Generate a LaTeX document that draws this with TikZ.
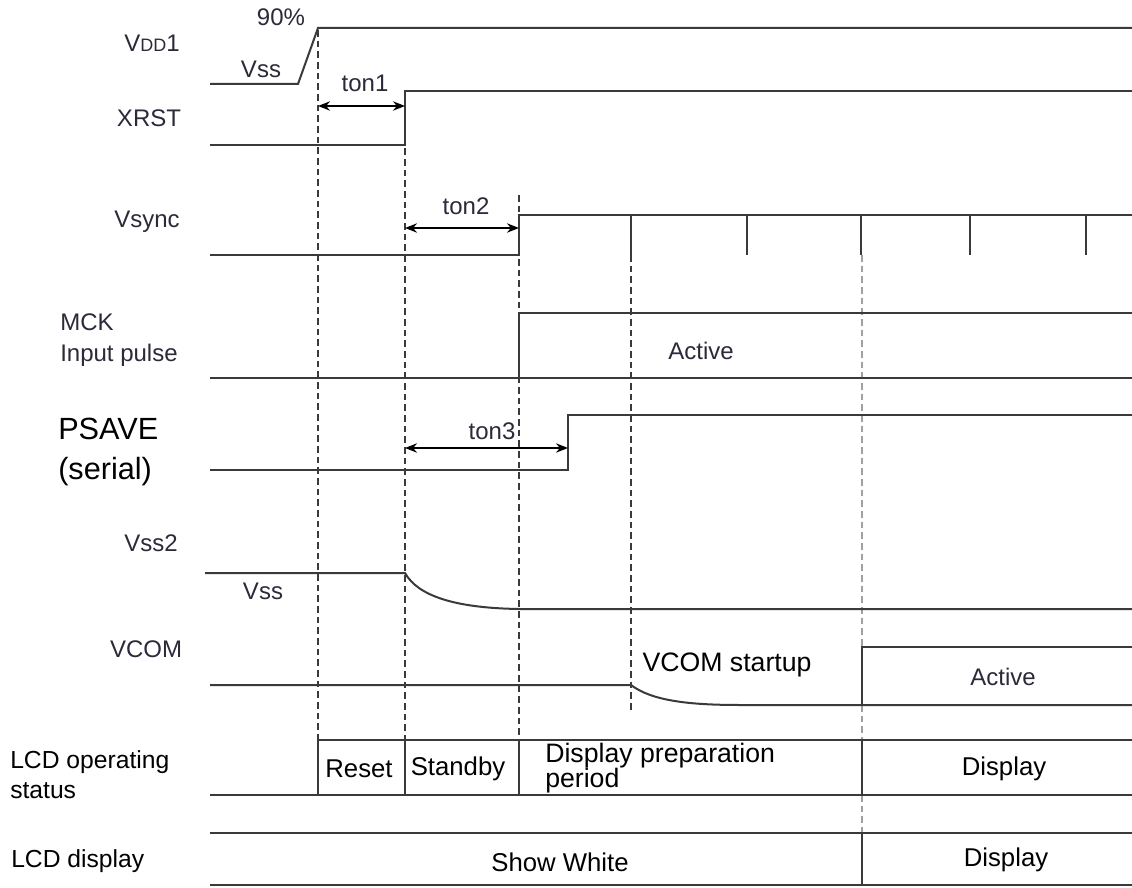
\documentclass[tikz,border=0pt]{standalone}
\usepackage{fontspec}
\setmainfont{Liberation Sans}
\usetikzlibrary{arrows.meta}
\definecolor{sigc}{HTML}{3A3A3A}
\definecolor{txtc}{HTML}{2A2A3A}
\definecolor{greyd}{HTML}{A0A0A0}
\newcommand{\orig}{\fontsize{18}{20}\selectfont}
\newcommand{\smc}{\fontsize{13.5}{14}\selectfont}
\newcommand{\addf}{\fontsize{19.3}{21}\selectfont}
\begin{document}
\begin{tikzpicture}[x=0.75pt,y=-0.75pt,
  sig/.style={draw=sigc, line width=1.5pt},
  vdsh/.style={draw=sigc, line width=1pt, dash pattern=on 5pt off 3pt},
  gdsh/.style={draw=greyd, line width=1.2pt, dash pattern=on 5pt off 3pt},
  boxl/.style={draw=sigc, line width=1.5pt},
  dimarr/.style={draw=black, line width=1.3pt, {Stealth[length=9pt,width=7pt]}-{Stealth[length=9pt,width=7pt]}},
  otxt/.style={text=txtc, font=\orig, inner sep=0pt},
  atxt/.style={text=black, font=\addf, inner sep=0pt}]
\useasboundingbox (0,0) rectangle (1132,888);
% ---------- dashed guide lines
\draw[vdsh] (318,30) -- (318,740);
\draw[vdsh] (405,95) -- (405,740);
\draw[vdsh] (519,195) -- (519,740);
\draw[vdsh] (631,255) -- (631,710);
\draw[gdsh] (862,255) -- (862,647);
\draw[gdsh] (862,705) -- (862,740);
\draw[gdsh] (862,795) -- (862,833);
% ---------- VDD1
\draw[sig] (210,84) -- (298,84) -- (318,28) -- (1132,28);
\node[otxt] (n90) at (281,17) {90\%};
\node[otxt] (vdd) at (152,43) {V{\smc DD}1};
\node[otxt] (vss1) at (261,69) {Vss};
% ---------- XRST
\draw[sig] (210,145) -- (405,145) -- (405,91) -- (1132,91);
\node[otxt] (xrst) at (149,118) {XRST};
\coordinate (t1a) at (318,106);
\coordinate (t1b) at (405,106);
\draw[dimarr] (t1a) -- (t1b);
\node[otxt] (ton1) at (365,83) {ton1};
% ---------- Vsync
\draw[sig] (210,255) -- (519,255) -- (519,215) -- (1132,215);
\foreach \x in {631,747,861,970,1086} \draw[sig, line width=1.2pt] (\x,215) -- (\x,255);
\node[otxt] (vsync) at (147,222) {Vsync};
\coordinate (t2a) at (405,228);
\coordinate (t2b) at (519,228);
\draw[dimarr] (t2a) -- (t2b);
\node[otxt] (ton2) at (466,206) {ton2};
% ---------- MCK
\draw[sig] (210,378) -- (1132,378);
\draw[sig] (519,378) -- (519,313) -- (1132,313);
\node[otxt, anchor=west] (mck) at (60,322) {MCK};
\node[otxt, anchor=west] (inp) at (60,355) {Input pulse};
\node[otxt] (act1) at (701,351) {Active};
% ---------- PSAVE
\draw[sig] (210,470) -- (568,470) -- (568,415) -- (1132,415);
\node[atxt, anchor=west, font=\fontsize{23}{25}\selectfont] (psave) at (58,429) {PSAVE};
\node[atxt, anchor=west, font=\fontsize{23}{25}\selectfont] (serial) at (58,472) {(serial)};
\coordinate (t3a) at (405,448);
\coordinate (t3b) at (568,448);
\draw[dimarr] (t3a) -- (t3b);
\node[otxt] (ton3) at (492,431) {ton3};
% ---------- Vss2
\draw[sig] (205,573) -- (405,573) .. controls (418,596) and (455,608) .. (519,609) -- (1132,609);
\node[otxt] (vss2) at (151,543) {Vss2};
\node[otxt] (vss3) at (263,591) {Vss};
% ---------- VCOM
\draw[sig] (210,685) -- (631,685) .. controls (652,701) and (690,705) .. (740,705) -- (1132,705);
\draw[sig] (862,705) -- (862,647) -- (1132,647);
\node[otxt] (vcom) at (146,649) {VCOM};
\node[atxt, font=\fontsize{20}{22}\selectfont] (vstart) at (727,665) {VCOM startup};
\node[otxt] (act2) at (1003,677) {Active};
% ---------- LCD operating status
\draw[boxl] (318,740) -- (1132,740);
\draw[boxl] (210,795) -- (1132,795);
\foreach \x in {318,405,519,862} \draw[boxl] (\x,740) -- (\x,795);
\node[atxt, anchor=west, font=\fontsize{18.5}{20}\selectfont] (lops1) at (10,762) {LCD operating};
\node[atxt, anchor=west, font=\fontsize{18.5}{20}\selectfont] (lops2) at (10,791) {status};
\node[atxt] (reset) at (359,769) {Reset};
\node[atxt] (stby) at (458,769) {Standby};
\node[atxt, anchor=west, font=\fontsize{20}{22}\selectfont] (dpp1) at (545,756) {Display preparation};
\node[atxt, anchor=west, font=\fontsize{20}{22}\selectfont] (dpp2) at (545,781) {period};
\node[atxt] (disp1) at (1004,769) {Display};
% ---------- LCD display
\draw[boxl] (210,833) -- (1132,833);
\draw[boxl] (210,885) -- (1132,885);
\draw[boxl] (862,833) -- (862,885);
\node[atxt, anchor=west, font=\fontsize{18.5}{20}\selectfont] (lcdd) at (11,861) {LCD display};
\node[atxt] (sw) at (560,862) {Show White};
\node[atxt] (disp2) at (1006,860) {Display};
\end{tikzpicture}
\end{document}
